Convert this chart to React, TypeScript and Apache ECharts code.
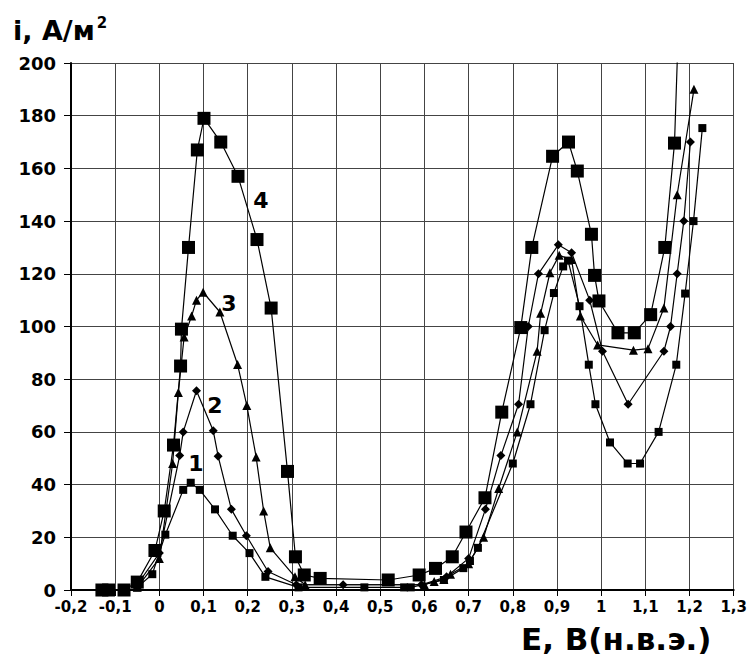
import React, { useEffect, useRef } from "react";
import * as echarts from "echarts";

const xTicks = { min: -0.2, max: 1.3, interval: 0.1 };
const yTicks = { min: 0, max: 200, interval: 20 };

const curve1: number[][] = [
  [-0.05, 1], [-0.016, 6], [0.0135, 21], [0.054, 38], [0.071, 40.7], [0.0915, 38],
  [0.126, 30.6], [0.166, 20.6], [0.204, 14], [0.24, 5], [0.315, 1], [0.464, 1],
  [0.554, 1], [0.569, 1], [0.644, 3.8], [0.688, 8.3], [0.703, 11], [0.721, 16],
  [0.8, 48], [0.84, 70.5], [0.872, 98.6], [0.893, 112.7], [0.914, 122.8], [0.925, 125],
  [0.951, 107.7], [0.972, 85.5], [0.987, 70.5], [1.02, 56], [1.06, 48], [1.088, 48],
  [1.13, 60], [1.17, 85.5], [1.19, 112.5], [1.209, 140], [1.229, 175.3],
];

const curve2: number[][] = [
  [-0.05, 2], [0.0, 14], [0.046, 51], [0.054, 60], [0.084, 75.6], [0.122, 60.4],
  [0.133, 50.8], [0.163, 30.6], [0.197, 20.6], [0.246, 7], [0.31, 2], [0.416, 2],
  [0.593, 2], [0.65, 5], [0.7, 12], [0.738, 30.6], [0.773, 51], [0.813, 70.5],
  [0.835, 100], [0.858, 120], [0.903, 131], [0.933, 128], [0.974, 110], [1.003, 90.6],
  [1.061, 70.5], [1.142, 90.6], [1.157, 100], [1.172, 120], [1.187, 140], [1.202, 170],
];

const curve3: number[][] = [
  [-0.05, 1], [0.0, 12], [0.03, 48], [0.043, 75], [0.056, 96], [0.073, 104],
  [0.084, 110], [0.099, 113], [0.137, 105.5], [0.177, 85.6], [0.198, 70], [0.219, 50.5],
  [0.236, 30], [0.251, 16], [0.307, 5], [0.33, 2], [0.6, 2], [0.622, 3.2],
  [0.644, 4], [0.659, 6], [0.7, 10], [0.734, 20], [0.768, 38.5], [0.81, 60],
  [0.855, 90.6], [0.863, 105], [0.884, 120.4], [0.905, 127], [0.933, 125.4], [0.953, 104],
  [0.992, 93], [1.073, 91], [1.106, 91.6], [1.142, 107], [1.172, 150], [1.21, 190],
];

const curve4: number[][] = [
  [-0.13, 0], [-0.115, 0], [-0.08, 0], [-0.05, 3], [-0.01, 15], [0.011, 30],
  [0.032, 55], [0.048, 85], [0.05, 99], [0.066, 130], [0.086, 167], [0.101, 179],
  [0.139, 170], [0.178, 157], [0.221, 133], [0.253, 107], [0.29, 45], [0.308, 12.6],
  [0.328, 5.7], [0.364, 4.4], [0.518, 3.8], [0.588, 5.7], [0.625, 8.2], [0.663, 12.6],
  [0.694, 22], [0.737, 35], [0.775, 67.5], [0.818, 99.6], [0.843, 130], [0.89, 164.6],
  [0.926, 170], [0.946, 159], [0.978, 135], [0.985, 119.4], [0.995, 109.7], [1.038, 97.6],
  [1.075, 97.6], [1.112, 104.5], [1.144, 130], [1.166, 169.6], [1.19, 290],
];

const curveLabels = ["1", "2", "3", "4"];

const FONT = "'DejaVu Sans', Arial, sans-serif";

function fmtX(v: number): string {
  const r = Math.round(v * 10) / 10;
  return String(r).replace(".", ",");
}

export default function App() {
  const ref = useRef<HTMLDivElement>(null);
  useEffect(() => {
    if (!ref.current) return;
    const chart = echarts.init(ref.current, undefined, { renderer: "svg" });
    const lineStyle = { color: "#000", width: 1.2 };
    const mk = (data: number[][], symbol: string, size: number) => ({
      type: "line",
      data,
      symbol,
      symbolSize: size,
      showSymbol: true,
      itemStyle: { color: "#000" },
      lineStyle,
      clip: true,
      z: 3,
    });
    const lbl = (t: string, x: number, y: number) => ({
      type: "text",
      x,
      y,
      z: 10,
      style: { text: t, fill: "#000", font: `bold 22px ${FONT}`, align: "center", verticalAlign: "middle" },
    });
    chart.setOption({
      animation: false,
      backgroundColor: "#fff",
      grid: { left: 71, right: 12, top: 63, bottom: 71 },
      xAxis: {
        type: "value",
        min: xTicks.min,
        max: xTicks.max,
        interval: xTicks.interval,
        axisLine: { onZero: false, lineStyle: { color: "#000", width: 2 } },
        axisTick: { show: true, length: 6, lineStyle: { color: "#000", width: 1 } },
        axisLabel: {
          formatter: fmtX,
          color: "#000",
          fontFamily: FONT,
          fontWeight: "bold",
          fontSize: 15,
          margin: 9,
        },
        splitLine: { show: true, lineStyle: { color: "#444", width: 1 } },
      },
      yAxis: {
        type: "value",
        min: yTicks.min,
        max: yTicks.max,
        interval: yTicks.interval,
        axisLine: { show: true, onZero: false, lineStyle: { color: "#000", width: 2 } },
        axisTick: { show: true, length: 7, lineStyle: { color: "#000", width: 1 } },
        axisLabel: {
          color: "#000",
          fontFamily: FONT,
          fontWeight: "bold",
          fontSize: 18,
          margin: 15,
        },
        splitLine: { show: true, lineStyle: { color: "#444", width: 1 } },
      },
      series: [
        mk(curve1, "rect", 8),
        mk(curve2, "diamond", 9),
        mk(curve3, "triangle", 9),
        mk(curve4, "rect", 13),
      ],
      graphic: [
        {
          type: "text",
          left: 13,
          top: 15,
          style: {
            text: "i, A/м{sup|2}",
            fill: "#000",
            font: `bold 27px ${FONT}`,
            rich: {
              sup: { fontSize: 15, fontWeight: "bold", fontFamily: FONT, verticalAlign: "top", padding: [0, 0, 16, 2] },
            },
          },
        },
        {
          type: "text",
          left: 521,
          top: 623,
          style: { text: "E, B(н.в.э.)", fill: "#000", font: `bold 31px ${FONT}` },
        },
        lbl(curveLabels[0], 196, 463),
        lbl(curveLabels[1], 215, 405),
        lbl(curveLabels[2], 229, 303),
        lbl(curveLabels[3], 261, 200),
      ],
    });
    return () => chart.dispose();
  }, []);
  return <div ref={ref} style={{ width: 750, height: 661, position: "absolute", left: 0, top: 0 }} />;
}
